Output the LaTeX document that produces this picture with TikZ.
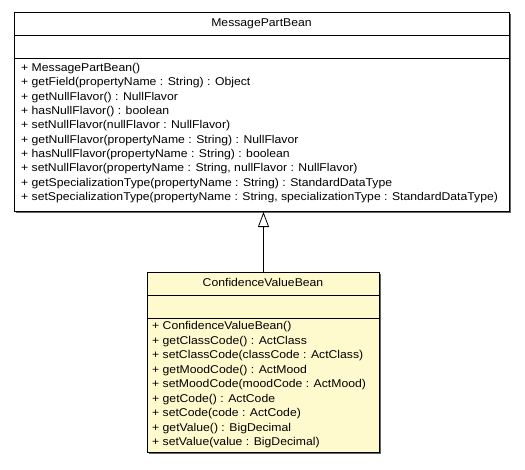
\documentclass[tikz,border=0pt]{standalone}
\usepackage{fontspec}
\setmainfont{Liberation Sans}[FakeStretch=1.08]
\usetikzlibrary{arrows.meta}
\definecolor{umlfill}{HTML}{FFFACD}
\tikzset{
  x=1pt, y=1pt,
  classbox/.style={draw=black, line width=1pt, inner sep=0pt, anchor=north west},
  shadowbox/.style={fill=black!60, draw=none, inner sep=0pt, anchor=north west},
  divider/.style={draw=black, line width=1pt},
  member/.style={anchor=mid west, inner sep=0pt, font=\fontsize{11.3}{13}\selectfont},
  title/.style={anchor=mid, inner sep=0pt, font=\fontsize{11.3}{13}\selectfont},
  inherit/.style={draw=black, line width=0.8pt, -{Triangle[open, length=15pt, width=11pt]}}
}
\begin{document}
\begin{tikzpicture}
\useasboundingbox (0,0) rectangle (525,-469);
% shadows
\node[shadowbox, minimum width=495, minimum height=199] at (15.5,-13.5) {};
\node[shadowbox, minimum width=232, minimum height=180] at (148.5,-273.5) {};
% boxes
\node[classbox, fill=white, minimum width=495, minimum height=199] (mpb) at (14,-12) {};
\node[classbox, fill=umlfill, minimum width=232, minimum height=180] (cvb) at (147,-272) {};
% dividers
\draw[divider] (14,-35) -- (509,-35);
\draw[divider] (14,-58) -- (509,-58);
\draw[divider] (147,-295) -- (379,-295);
\draw[divider] (147,-318) -- (379,-318);
% titles
\node[title] (t1) at (261.5,-23.5) {MessagePartBean};
\node[title] (t2) at (263,-283.5) {ConfidenceValueBean};
% members
\node[member] (m1) at (21,-69) {+ MessagePartBean()};
\node[member] (m2) at (21,-83.3) {+ getField(propertyName : String) : Object};
\node[member] (m3) at (21,-97.7) {+ getNullFlavor() : NullFlavor};
\node[member] (m4) at (21,-112) {+ hasNullFlavor() : boolean};
\node[member] (m5) at (21,-126.3) {+ setNullFlavor(nullFlavor : NullFlavor)};
\node[member] (m6) at (21,-140.7) {+ getNullFlavor(propertyName : String) : NullFlavor};
\node[member] (m7) at (21,-155) {+ hasNullFlavor(propertyName : String) : boolean};
\node[member] (m8) at (21,-169.3) {+ setNullFlavor(propertyName : String, nullFlavor : NullFlavor)};
\node[member] (m9) at (21,-183.7) {+ getSpecializationType(propertyName : String) : StandardDataType};
\node[member] (m10) at (21,-198) {+ setSpecializationType(propertyName : String, specializationType : StandardDataType)};
\node[member] (c1) at (152,-327) {+ ConfidenceValueBean()};
\node[member] (c2) at (152,-341.5) {+ getClassCode() : ActClass};
\node[member] (c3) at (152,-356) {+ setClassCode(classCode : ActClass)};
\node[member] (c4) at (152,-370.5) {+ getMoodCode() : ActMood};
\node[member] (c5) at (152,-385) {+ setMoodCode(moodCode : ActMood)};
\node[member] (c6) at (152,-399.5) {+ getCode() : ActCode};
\node[member] (c7) at (152,-414) {+ setCode(code : ActCode)};
\node[member] (c8) at (152,-428.5) {+ getValue() : BigDecimal};
\node[member] (c9) at (152,-443) {+ setValue(value : BigDecimal)};
% inheritance
\draw[inherit] (cvb.north) -- (cvb.north |- mpb.south);
\end{tikzpicture}
\end{document}
